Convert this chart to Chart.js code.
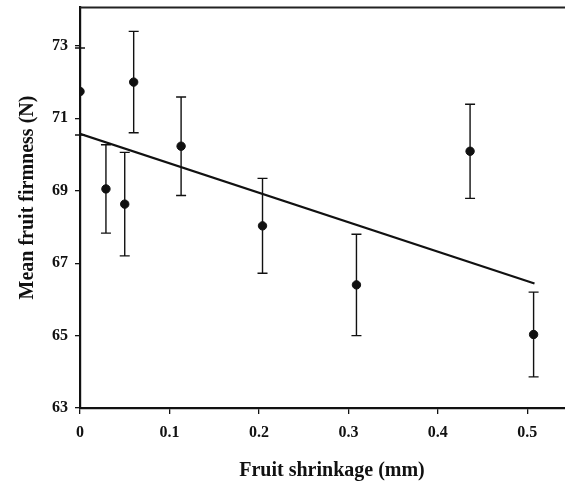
<!DOCTYPE html>
<html>
<head>
<meta charset="utf-8">
<script src="https://cdn.jsdelivr.net/npm/chart.js@4/dist/chart.umd.min.js"></script>
<style>
html,body{margin:0;padding:0;background:#fff;}
#wrap{width:565px;height:483px;}
</style>
</head>
<body>
<div id="wrap"><canvas id="c" width="565" height="483"></canvas></div>
<script>
// Data
const shrinkage = [0.000, 0.029, 0.050, 0.060, 0.113, 0.204, 0.309, 0.436, 0.507];
const firmness  = [71.74, 69.05, 68.63, 72.00, 70.23, 68.03, 66.40, 70.09, 65.03];
const errors    = [1.20, 1.22, 1.43, 1.40, 1.36, 1.31, 1.40, 1.30, 1.17];
const trendX = [0.000, 0.508];
const trendY = [70.57, 66.44];
const xTicks = [0, 0.1, 0.2, 0.3, 0.4, 0.5];
const yTicks = [63, 65, 67, 69, 71, 73];
const xTitle = 'Fruit shrinkage (mm)';
const yTitle = 'Mean fruit firmness (N)';

const FONT = "'Liberation Serif', 'Times New Roman', serif";

const errorBars = {
  id: 'errorBars',
  afterDatasetsDraw(chart) {
    const ctx = chart.ctx, xs = chart.scales.x, ys = chart.scales.y;
    ctx.save();
    ctx.strokeStyle = '#111';
    ctx.lineWidth = 1.4;
    for (let i = 0; i < shrinkage.length; i++) {
      const px = xs.getPixelForValue(shrinkage[i]);
      const top = ys.getPixelForValue(firmness[i] + errors[i]);
      const bot = ys.getPixelForValue(firmness[i] - errors[i]);
      ctx.beginPath();
      ctx.moveTo(px, top); ctx.lineTo(px, bot);
      ctx.moveTo(px - 5, top); ctx.lineTo(px + 5, top);
      ctx.moveTo(px - 5, bot); ctx.lineTo(px + 5, bot);
      ctx.stroke();
    }
    ctx.restore();
  }
};

const frameAndTitles = {
  id: 'frameAndTitles',
  afterDraw(chart) {
    const ctx = chart.ctx, a = chart.chartArea;
    ctx.save();
    ctx.strokeStyle = '#222';
    ctx.lineWidth = 2;
    ctx.beginPath();
    ctx.moveTo(a.left, a.top); ctx.lineTo(a.right, a.top);
    ctx.stroke();
    ctx.fillStyle = '#111';
    ctx.font = "bold 20px " + FONT;
    ctx.textAlign = 'center';
    ctx.textBaseline = 'alphabetic';
    ctx.fillText(xTitle, 332, 476);
    ctx.translate(32.5, 197.5);
    ctx.rotate(-Math.PI / 2);
    ctx.fillText(yTitle, 0, 0);
    ctx.restore();
  }
};

new Chart(document.getElementById('c'), {
  type: 'scatter',
  data: {
    datasets: [
      {
        type: 'line',
        data: trendX.map((x, i) => ({x, y: trendY[i]})),
        borderColor: '#111',
        borderWidth: 2.2,
        pointRadius: 0,
        fill: false,
        order: 2
      },
      {
        data: shrinkage.map((x, i) => ({x, y: firmness[i]})),
        backgroundColor: '#111',
        borderColor: '#111',
        pointRadius: 4.2,
        pointHoverRadius: 4.2,
        order: 1
      }
    ]
  },
  options: {
    responsive: false,
    animation: false,
    events: [],
    layout: { autoPadding: false, padding: { top: 7.5, right: 0, left: 0, bottom: 0 } },
    plugins: { legend: { display: false }, tooltip: { enabled: false } },
    scales: {
      x: {
        type: 'linear',
        min: 0, max: 0.5421,
        afterBuildTicks(s) { s.ticks = xTicks.map(v => ({value: v})); },
        afterFit(s) { s.height = 75; s.paddingLeft = 0; s.paddingRight = 0; },
        grid: { drawOnChartArea: false, tickLength: 6, color: '#111', lineWidth: 1.3 },
        border: { color: '#111', width: 2.2 },
        ticks: {
          color: '#111', padding: 9, maxRotation: 0,
          font: { family: FONT, weight: 'bold', size: 16 },
          callback: v => v === 0 ? '0' : v.toFixed(1)
        }
      },
      y: {
        type: 'linear',
        min: 63, max: 74.06,
        afterBuildTicks(s) { s.ticks = yTicks.map(v => ({value: v})); },
        afterFit(s) { s.width = 80; s.paddingTop = 0; s.paddingBottom = 0; },
        grid: { drawOnChartArea: false, tickLength: 5, color: '#111', lineWidth: 1.3 },
        border: { color: '#111', width: 2.2 },
        ticks: {
          color: '#111', padding: 7,
          font: { family: FONT, weight: 'bold', size: 16 },
          callback: v => String(v)
        }
      }
    }
  },
  plugins: [errorBars, frameAndTitles]
});
</script>
</body>
</html>
